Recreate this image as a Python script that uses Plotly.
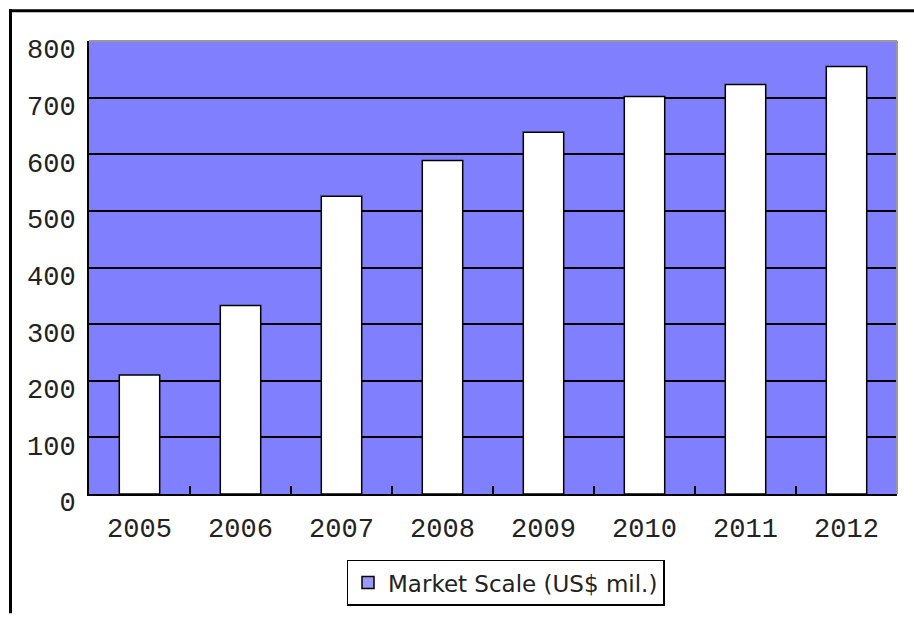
import plotly.graph_objects as go

years = ["2005", "2006", "2007", "2008", "2009", "2010", "2011", "2012"]
market_scale = [210, 333, 526, 589, 639, 702, 723, 755]
series_name = "Market Scale (US$ mil.)"
y_ticks = [0, 100, 200, 300, 400, 500, 600, 700, 800]

W, H = 914, 617
ml, mr, mt, mb = 89, 17, 41, 120
pw, ph = W - ml - mr, H - mt - mb

def px_x(p):
    return (p - ml) / pw

def px_y(p):
    return (H - mb - p) / ph

fig = go.Figure()
fig.add_trace(go.Bar(
    x=years, y=market_scale, name=series_name, showlegend=False,
    marker=dict(color="white", line=dict(color="black", width=1.5)),
    width=0.4,
))
# legend swatch trace
fig.add_trace(go.Bar(
    x=[None], y=[None], name=series_name, showlegend=True,
    marker=dict(color="#9999FF", line=dict(color="black", width=1.5)),
))

tickfont = dict(family="Liberation Mono", size=27, color="#222222")

fig.update_layout(
    width=W, height=H,
    margin=dict(l=ml, r=mr, t=mt, b=mb, pad=0),
    paper_bgcolor="white",
    plot_bgcolor="#8080FF",
    bargap=0.6,
    showlegend=True,
    legend=dict(
        orientation="h", x=px_x(505.5), xanchor="center", y=px_y(563), yanchor="top",
        bgcolor="white", bordercolor="black", borderwidth=1.5,
        font=dict(family="DejaVu Sans", size=23, color="#222222"),
    ),
    xaxis=dict(
        type="category", showgrid=False, showline=True, linecolor="black", linewidth=2,
        ticks="inside", tickson="boundaries", ticklen=8, tickwidth=2, tickcolor="black",
        tickfont=tickfont, ticklabelstandoff=9,
    ),
    yaxis=dict(
        range=[0, 800], tickvals=y_ticks, showgrid=True, gridcolor="black", gridwidth=1.5,
        showline=True, linecolor="black", linewidth=2, zeroline=False,
        ticks="", tickfont=tickfont, ticklabelstandoff=6, ticklabelshift=8,
    ),
    shapes=[
        # plot area top and right border (gray)
        dict(type="line", xref="paper", yref="paper", x0=0, x1=1, y0=1, y1=1,
             line=dict(color="#999999", width=2), layer="above"),
        dict(type="line", xref="paper", yref="paper", x0=1, x1=1, y0=0, y1=1,
             line=dict(color="#999999", width=2), layer="above"),
        # outer frame top and left
        dict(type="line", xref="paper", yref="paper", x0=px_x(9), x1=px_x(914),
             y0=px_y(10.5), y1=px_y(10.5), line=dict(color="black", width=3)),
        dict(type="line", xref="paper", yref="paper", x0=px_x(10.5), x1=px_x(10.5),
             y0=px_y(9), y1=px_y(617), line=dict(color="black", width=3)),
    ],
)

fig.write_html("out.html", config={"displayModeBar": False},
               post_script="document.body.style.margin='0';")
